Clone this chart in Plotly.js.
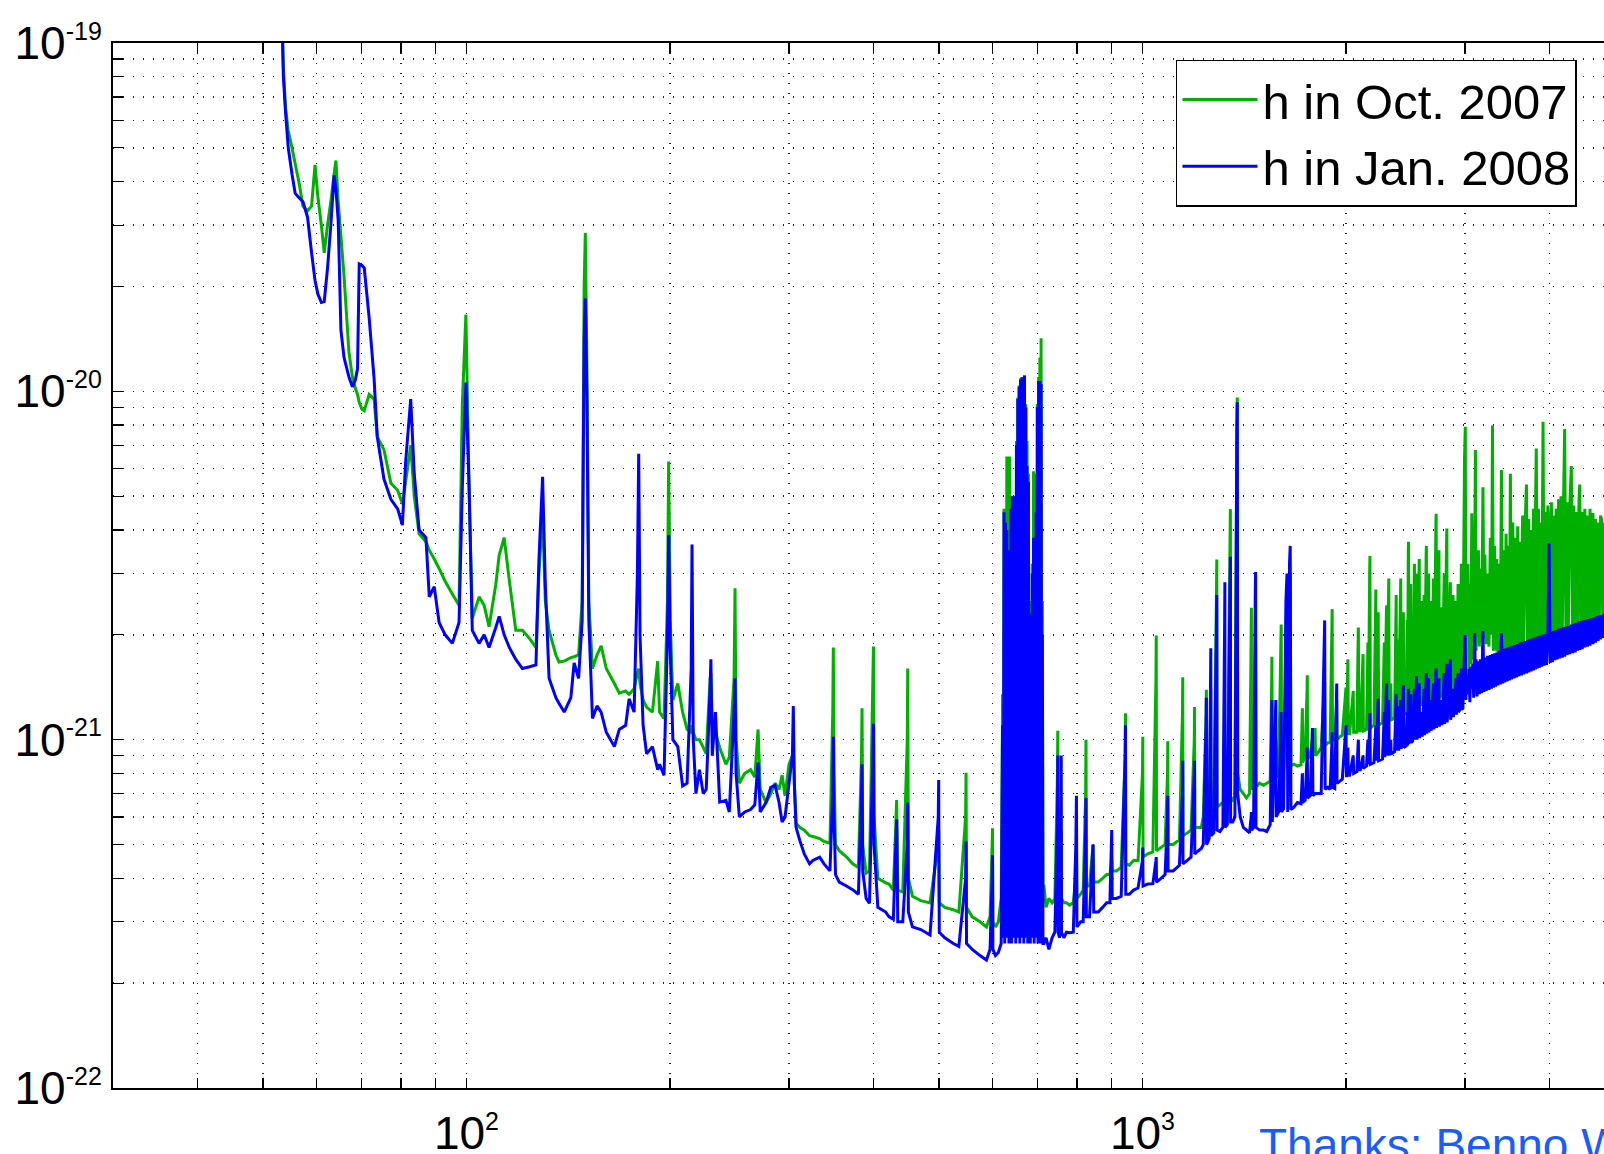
<!DOCTYPE html>
<html>
<head>
<meta charset="utf-8">
<script src="https://cdn.plot.ly/plotly-3.0.1.min.js"></script>
<style>
  html, body { margin: 0; padding: 0; overflow: hidden; background: #fff; width: 1604px; height: 1154px; }
  #chart { width: 1640px; height: 1154px; }
</style>
</head>
<body>
<div id="chart"></div>
<script>
// Strain amplitude values are listed in units of 1e-21 (1/sqrt(Hz)); frequencies in Hz.
const STRAIN_UNIT = 1e-21;

// ---- 53 - 160 Hz ----
const freqSeg1 = [53.2, 53.6, 54.0, 54.5, 55.2, 55.8, 56.5, 57.3, 58.2, 59.0,
  59.7, 60.3, 61.0, 61.6, 62.3, 63.0, 63.7, 64.1, 64.6, 65.2,
  65.9, 67.0, 67.8, 68.5, 69.0, 69.4, 70.0, 70.6, 71.8, 73.0,
  73.8, 75.5, 77.3, 79.1, 80.4, 81.3, 82.7, 83.7, 85.1, 87.1,
  88.1, 89.6, 91.1, 93.0, 95.3, 97.5, 98.6, 99.8, 100.9, 102,
  104.4, 106.2, 108, 110.5, 111.8, 113.7, 115.7, 118.3, 121, 124,
  126.7, 128, 129.6, 130.8, 132.5, 135.6, 137.1, 139.5, 142.7, 144.3,
  146.5, 148.3, 149.3, 149.9, 150.7, 151.7, 153.6, 156, 158.2];
const octSeg1 = [150, 85, 65, 56, 50, 45, 40, 34, 33, 34,
  44.7, 36, 30, 25, 30, 35, 42, 46, 35, 28,
  21.4, 13, 11, 10.2, 9.8, 9.3, 8.9, 8.8, 9.8, 9.5,
  7.4, 6.8, 5.45, 5.2, 4.75, 5.5, 7.0, 5.0, 3.9, 3.7,
  3.5, 3.3, 3.1, 2.85, 2.62, 2.43, 9.2, 16.6, 5.3, 2.23,
  2.57, 2.43, 2.11, 2.79, 3.39, 3.8, 2.87, 2.06, 2.06, 1.95,
  1.84, 3.0, 4.4, 2.5, 2.06, 1.75, 1.67, 1.68, 1.72, 1.73,
  1.75, 2.5, 20, 28.5, 12, 2.5, 1.6, 1.75, 1.86];
const janSeg1 = [150, 80, 63, 50, 42, 37, 36, 35, 31.6, 25,
  20.8, 19, 18, 18.1, 22.6, 30, 41.7, 38, 31, 15,
  12.5, 11, 10.3, 10.8, 11.6, 23.2, 23.0, 22.6, 16.2, 10.9,
  7.4, 5.6, 4.9, 4.6, 4.13, 6.3, 9.5, 5.8, 4.0, 3.8,
  2.57, 2.75, 2.17, 2.0, 1.89, 2.17, 5.3, 10.6, 5.3, 2.06,
  1.89, 2.0, 1.84, 2.1, 2.26, 2.0, 1.84, 1.7, 1.6, 1.62,
  1.64, 3.3, 5.68, 2.8, 1.5, 1.32, 1.27, 1.2, 1.32, 1.66,
  1.5, 2.2, 14, 18.5, 9.8, 2.2, 1.15, 1.25, 1.2];

// ---- 160 - 612 Hz ----
const freqSeg2 = [161, 165.5, 168.3, 172, 174, 177, 179, 179.8, 180.6, 182.5,
  184.7, 188.4, 191.8, 193, 196, 198.3, 199.1, 200.2, 202, 205.4,
  208.8, 212, 215, 215.6, 216.5, 218.5, 221.1, 224, 226.3, 229.3,
  229.9, 231, 233.5, 236.9, 242, 244.8, 248.8, 249.6, 250.5, 253.3,
  258, 263.2, 267, 270, 272, 277.4, 282, 286, 290, 293,
  296, 300, 303.5, 304.4, 305.5, 307.3, 311.2, 316, 321.7, 325.4,
  333, 338, 344.9, 348.2, 348.9, 349.7, 351.5, 356, 364.8, 372.6,
  380, 384, 384.7, 385.6, 390.1, 394.6, 399.2, 400, 400.8, 406,
  417.1, 421.8, 428, 432.9, 434.5, 442, 448.8, 449.5, 450.5, 456.8,
  470, 485, 498.8, 499.5, 500.5, 510, 525, 535, 547.5, 548.3,
  549.2, 560, 575, 587.7, 595, 599.3, 600, 600.8, 606, 612];
const octSeg2 = [1.6, 1.45, 1.36, 1.38, 1.35, 1.4, 1.55, 1.6, 1.45, 1.3,
  1.24, 1.2, 1.68, 1.2, 1.15, 2.5, 6.29, 2.2, 1.3, 1.45,
  1.2, 1.07, 1.05, 1.1, 1.05, 1.0, 1.0, 0.95, 0.91, 1.5,
  1.55, 1.1, 1.05, 0.95, 0.85, 0.89, 1.5, 2.72, 1.0, 0.75,
  0.8, 0.82, 0.78, 1.07, 0.72, 0.66, 0.7, 0.75, 0.72, 0.79,
  0.69, 0.85, 0.9, 0.92, 0.75, 0.575, 0.56, 0.55, 0.53, 0.527,
  0.52, 0.51, 0.505, 1.2, 1.84, 0.8, 0.5, 0.48, 0.461, 0.44,
  0.43, 0.9, 1.23, 0.5, 0.414, 0.42, 1.5, 1.85, 0.6, 0.40,
  0.388, 0.385, 0.37, 0.671, 0.37, 0.365, 1.0, 1.6, 0.4, 0.355,
  0.345, 0.34, 0.5, 0.55, 0.34, 0.33, 0.325, 0.32, 0.6, 0.804,
  0.33, 0.31, 0.30, 0.29, 0.31, 0.5, 0.557, 0.3, 0.29, 0.3];
const janSeg2 = [1.05, 0.955, 1.07, 1.1, 1.31, 1.2, 3.0, 6.62, 2.0, 1.1,
  0.91, 0.955, 0.82, 0.85, 0.79, 2.0, 3.87, 1.8, 1.0, 0.955,
  0.736, 0.75, 1.6, 3.63, 1.0, 0.7, 0.82, 0.7, 0.72, 1.4,
  1.7, 0.9, 1.2, 0.662, 0.67, 0.62, 1.2, 1.5, 0.8, 0.6,
  0.62, 0.63, 0.65, 0.86, 0.62, 0.66, 0.73, 0.74, 0.66, 0.58,
  0.6, 0.75, 0.9, 1.25, 0.75, 0.56, 0.514, 0.47, 0.44, 0.45,
  0.46, 0.44, 0.42, 0.7, 1.02, 0.6, 0.41, 0.39, 0.38, 0.371,
  0.36, 0.7, 0.85, 0.42, 0.35, 0.339, 0.9, 1.11, 0.5, 0.33,
  0.32, 0.31, 0.305, 0.59, 0.3, 0.3, 0.5, 0.66, 0.32, 0.29,
  0.285, 0.275, 0.6, 0.766, 0.28, 0.27, 0.26, 0.255, 0.4, 0.51,
  0.26, 0.25, 0.24, 0.233, 0.25, 0.4, 0.466, 0.25, 0.24, 0.245];

// ---- violin-mode region, 618 - 713 Hz ----
const freqSeg3 = [618, 621, 622.5, 624, 625.5, 627, 628.5, 630, 631.5, 633,
  634.5, 636, 637.5, 639, 640.5, 642, 643.5, 645, 646.5, 648,
  649.5, 651, 652.5, 654, 655.5, 657, 658.5, 660, 661.5, 663,
  664.5, 666, 667.5, 669, 670.5, 672, 673.5, 675, 676.5, 678,
  679.5, 681, 682.5, 684, 685.5, 687, 688.5, 690, 691.5, 693,
  694.5, 696, 697.5, 699, 700.5, 702, 703.5, 705, 706.5, 708,
  709.5, 711, 712.5];
const octSeg3 = [0.35, 1.35, 0.36, 4.6, 0.37, 4.4, 0.35, 6.5, 0.38, 5.5,
  0.36, 6.5, 0.37, 4.8, 0.35, 5.0, 0.38, 4.9, 0.36, 5.0,
  0.37, 7.2, 0.35, 9.6, 0.38, 10.4, 0.36, 10.9, 0.37, 11.0,
  0.35, 11.0, 0.38, 11.1, 0.36, 9.2, 0.37, 7.2, 0.35, 5.8,
  0.38, 2.5, 0.36, 2.4, 0.37, 3.2, 0.35, 5.9, 0.38, 5.8,
  0.36, 4.6, 0.37, 9.2, 0.35, 11.0, 0.38, 12.5, 0.36, 14.2,
  0.37, 2.5, 0.38];
const janSeg3 = [0.26, 1.1, 0.27, 4.5, 0.26, 4.2, 0.27, 4.0, 0.28, 3.5,
  0.26, 3.2, 0.27, 4.6, 0.26, 5.0, 0.28, 4.8, 0.27, 5.0,
  0.26, 7.0, 0.28, 9.5, 0.27, 10.3, 0.26, 10.8, 0.27, 10.9,
  0.28, 11.0, 0.26, 11.1, 0.27, 9.0, 0.28, 6.1, 0.26, 5.5,
  0.27, 2.3, 0.26, 2.1, 0.28, 3.0, 0.27, 3.8, 0.26, 3.6,
  0.27, 4.5, 0.28, 9.0, 0.26, 10.7, 0.27, 10.7, 0.26, 10.5,
  0.27, 2.0, 0.26];

// ---- 715 - 1395 Hz ----
const freqSeg4 = [715, 720, 727, 735, 742, 748.6, 749.4, 750.2, 754, 757.5,
  758.2, 759, 765, 772, 780, 790, 797, 798.5, 800, 810,
  817, 824, 825, 826, 835, 845, 847, 860, 873, 885,
  895, 900.5, 902, 915, 930, 942.8, 943.7, 944.6, 956, 970,
  985, 1000, 1001, 1002, 1018, 1036, 1047, 1048, 1049, 1065,
  1080, 1089, 1090, 1091, 1110, 1125, 1134, 1146, 1147, 1148,
  1165, 1180, 1193, 1194, 1195, 1210, 1222, 1230, 1242, 1243,
  1244, 1255, 1261, 1262, 1263, 1275, 1287, 1288, 1289, 1302,
  1315, 1323, 1324, 1325, 1335, 1348, 1349, 1350, 1360, 1370,
  1379, 1381, 1383, 1395];
const octSeg4 = [0.38, 0.33, 0.35, 0.34, 0.35, 0.8, 1.06, 0.36, 0.34, 0.5,
  0.55, 0.35, 0.34, 0.34, 0.335, 0.34, 0.4, 0.5, 0.35, 0.36,
  0.37, 0.7, 1.0, 0.38, 0.38, 0.5, 0.39, 0.39, 0.40, 0.41,
  0.41, 0.45, 0.42, 0.42, 0.43, 0.9, 1.19, 0.44, 0.436, 0.45,
  0.45, 0.8, 1.02, 0.46, 0.47, 0.476, 1.5, 1.99, 0.48, 0.49,
  0.50, 0.8, 0.99, 0.50, 0.50, 0.51, 0.515, 1.2, 1.51, 0.53,
  0.54, 0.55, 1.0, 1.24, 0.56, 0.56, 0.56, 0.60, 1.2, 1.39,
  0.60, 0.62, 1.2, 1.4, 0.62, 0.63, 2.8, 3.29, 0.64, 0.65,
  0.66, 0.66, 0.65, 0.66, 0.66, 4.0, 4.59, 0.68, 0.67, 0.69,
  8.0, 9.6, 0.8, 0.72];
const janSeg4 = [0.26, 0.27, 0.25, 0.27, 0.28, 0.6, 0.9, 0.28, 0.27, 0.6,
  0.9, 0.28, 0.27, 0.28, 0.279, 0.28, 0.5, 0.69, 0.29, 0.30,
  0.30, 0.55, 0.68, 0.31, 0.31, 0.5, 0.32, 0.32, 0.33, 0.34,
  0.34, 0.55, 0.35, 0.35, 0.355, 0.9, 1.1, 0.36, 0.36, 0.37,
  0.375, 0.45, 0.49, 0.38, 0.385, 0.386, 0.45, 0.46, 0.39, 0.40,
  0.41, 0.6, 0.69, 0.42, 0.42, 0.43, 0.436, 0.7, 0.87, 0.44,
  0.45, 0.46, 0.8, 0.87, 0.47, 0.48, 0.487, 0.50, 1.1, 1.32,
  0.50, 0.52, 1.5, 1.83, 0.53, 0.54, 2.2, 2.6, 0.55, 0.545,
  0.56, 2.2, 2.83, 0.56, 0.57, 3.0, 3.35, 0.58, 0.58, 0.60,
  7.5, 9.3, 0.7, 0.60];

// ---- 1410 - 3008 Hz ----
const freqSeg5 = [1410, 1425, 1440, 1448, 1449, 1450, 1460, 1468, 1470, 1472,
  1490, 1510, 1527, 1545, 1553, 1554, 1556, 1575, 1577, 1590,
  1603, 1604, 1606, 1617, 1630, 1636, 1640, 1650, 1654, 1658,
  1675, 1695, 1716, 1724, 1726, 1740, 1752, 1753, 1755, 1770,
  1784, 1787, 1800, 1803, 1820, 1838, 1858, 1860, 1863, 1880,
  1895, 1907, 1908, 1910, 1925, 1938, 1940, 1960, 1975, 2000,
  2003, 2013, 2016, 2025, 2050, 2053, 2075, 2086, 2089, 2100,
  2120, 2122, 2145, 2155, 2158, 2168, 2170, 2173, 2200, 2214,
  2217, 2230, 2232, 2235, 2265, 2279, 2282, 2295, 2297, 2300,
  2314, 2317, 2330, 2333, 2360, 2373, 2376, 2388, 2390, 2393,
  2410, 2413, 2430, 2432, 2435, 2455, 2463, 2466, 2473, 2475,
  2478, 2493, 2496, 2510, 2525, 2528, 2542, 2544, 2547, 2567,
  2570, 2590, 2593, 2610, 2613, 2628, 2630, 2633, 2650, 2653,
  2670, 2673, 2695, 2698, 2717, 2719, 2722, 2745, 2748, 2770,
  2773, 2795, 2798, 2818, 2820, 2823, 2852, 2854, 2857, 2880,
  2883, 2910, 2913, 2930, 2933, 2950, 2963, 2966, 2978, 2995,
  3003, 3008];
const octSeg5 = [0.70, 0.68, 0.70, 2.0, 2.39, 0.72, 0.74, 1.5, 1.9, 0.73,
  0.75, 0.74, 0.75, 0.76, 1.5, 1.73, 0.78, 1.0, 0.78, 0.80,
  2.0, 2.14, 0.80, 0.82, 1.5, 1.6, 0.83, 2.5, 3.0, 0.84,
  0.85, 0.84, 0.846, 1.23, 0.86, 0.90, 1.4, 1.53, 0.88, 0.90,
  1.0, 0.90, 1.08, 0.90, 0.92, 0.95, 1.45, 1.45, 0.96, 0.98,
  0.98, 2.2, 2.37, 1.0, 1.0, 1.3, 1.0, 1.02, 1.03, 1.41,
  1.03, 1.7, 1.04, 1.04, 1.38, 1.05, 1.05, 2.1, 1.06, 1.06,
  1.76, 1.06, 1.07, 1.9, 1.07, 3.0, 3.37, 1.08, 1.10, 2.7,
  1.10, 2.2, 2.32, 1.10, 1.12, 1.9, 1.12, 2.3, 2.43, 1.13,
  2.9, 1.13, 1.45, 1.14, 1.15, 2.6, 1.15, 1.8, 1.94, 1.16,
  2.9, 1.17, 2.2, 2.32, 1.18, 1.20, 2.2, 1.20, 3.5, 3.7,
  1.20, 2.8, 1.21, 1.22, 3.2, 1.23, 2.8, 3.0, 1.24, 3.3,
  1.25, 2.5, 1.25, 2.6, 1.26, 3.4, 3.6, 1.27, 3.0, 1.27,
  2.5, 1.28, 2.9, 1.29, 4.2, 4.45, 1.30, 3.5, 1.31, 2.4,
  1.32, 3.0, 1.33, 3.8, 4.04, 1.34, 2.7, 2.83, 1.36, 2.6,
  1.38, 2.5, 1.41, 2.8, 1.45, 1.50, 3.2, 1.55, 1.60, 6.5,
  7.91, 2.0];
const janSeg5 = [0.56, 0.55, 0.54, 0.60, 0.62, 0.55, 0.56, 2.5, 3.03, 0.56,
  0.55, 0.55, 0.545, 0.57, 1.1, 1.3, 0.58, 1.3, 0.60, 0.62,
  1.1, 1.2, 0.62, 0.633, 2.5, 3.0, 0.62, 3.2, 3.6, 0.63,
  0.64, 0.66, 0.655, 0.80, 0.66, 0.67, 0.90, 0.95, 0.68, 0.69,
  1.08, 0.69, 0.70, 0.70, 0.70, 0.70, 2.0, 2.2, 0.72, 0.73,
  0.72, 1.0, 1.05, 0.73, 0.724, 1.45, 0.75, 0.76, 0.77, 1.1,
  0.78, 0.95, 0.79, 0.79, 0.90, 0.80, 0.81, 1.0, 0.82, 0.82,
  0.90, 0.827, 0.84, 1.0, 0.85, 1.1, 1.19, 0.85, 0.86, 1.1,
  0.87, 1.25, 1.31, 0.87, 0.88, 1.2, 0.89, 1.4, 1.45, 0.90,
  1.3, 0.90, 1.0, 0.91, 0.924, 1.35, 0.93, 1.2, 1.25, 0.93,
  1.3, 0.94, 1.38, 1.43, 0.95, 0.96, 1.2, 0.96, 1.3, 1.4,
  0.97, 1.35, 0.98, 0.99, 1.4, 1.0, 1.45, 1.52, 1.0, 1.45,
  1.01, 1.2, 1.02, 1.4, 1.03, 1.5, 1.55, 1.04, 1.5, 1.05,
  1.3, 1.06, 1.45, 1.07, 1.55, 1.6, 1.08, 1.5, 1.09, 1.3,
  1.10, 1.55, 1.11, 1.6, 1.65, 1.12, 1.65, 1.7, 1.14, 1.4,
  1.16, 1.5, 1.18, 1.55, 1.2, 1.22, 1.6, 1.22, 1.23, 1.8,
  2.0, 1.30];

// ---- 3020 - 5000 Hz ----
const freqSeg6 = [3020, 3030, 3040, 3050, 3060, 3070, 3080, 3090, 3100, 3108,
  3115, 3125, 3140, 3150, 3160, 3175, 3189, 3200, 3210, 3225,
  3240, 3255, 3270, 3283, 3294, 3305, 3318, 3330, 3343, 3356,
  3370, 3383, 3396, 3410, 3423, 3436, 3450, 3463, 3477, 3490,
  3501, 3515, 3530, 3545, 3560, 3575, 3590, 3605, 3620, 3635,
  3650, 3665, 3680, 3698, 3712, 3727, 3742, 3757, 3772, 3787,
  3800, 3812, 3824, 3838, 3852, 3866, 3880, 3896, 3913, 3928,
  3944, 3960, 3978, 3994, 4010, 4026, 4042, 4058, 4075, 4092,
  4108, 4125, 4142, 4160, 4178, 4195, 4212, 4230, 4248, 4266,
  4285, 4309, 4327, 4346, 4365, 4384, 4403, 4422, 4434, 4453,
  4472, 4492, 4512, 4532, 4552, 4572, 4592, 4612, 4639, 4660,
  4680, 4700, 4720, 4740, 4760, 4774, 4795, 4815, 4836, 4857,
  4878, 4900, 4922, 4944, 4966, 4988, 5000];
const octSeg6 = [2.6, 3.2, 1.6, 2.8, 1.65, 4.47, 1.7, 2.6, 3.0, 6.78,
  1.8, 3.0, 3.5, 1.85, 3.1, 1.9, 5.3, 1.95, 3.4, 1.88,
  3.0, 1.85, 3.8, 2.0, 7.98, 1.8, 3.6, 1.8, 3.3, 1.78,
  3.2, 1.78, 5.94, 1.76, 3.5, 1.78, 3.9, 1.78, 3.6, 1.8,
  5.8, 1.8, 4.2, 1.82, 3.8, 1.82, 4.1, 1.83, 3.7, 1.84,
  4.4, 1.84, 4.0, 5.4, 1.86, 4.3, 1.87, 4.0, 1.88, 4.6,
  1.9, 4.2, 6.85, 1.9, 4.6, 1.91, 4.2, 1.92, 8.18, 1.92,
  4.5, 1.93, 4.7, 3.8, 1.95, 4.8, 1.96, 4.4, 1.98, 4.6,
  1.99, 4.9, 2.0, 5.0, 2.02, 4.6, 7.8, 2.05, 4.8, 2.06,
  4.6, 6.1, 2.07, 4.7, 2.09, 4.5, 2.1, 4.8, 5.4, 2.12,
  4.5, 2.13, 4.6, 2.15, 4.4, 2.16, 4.6, 2.18, 4.47, 2.2,
  4.3, 2.21, 4.2, 2.22, 4.4, 4.3, 2.24, 4.2, 2.26, 4.1,
  2.27, 4.0, 2.28, 3.9, 2.3, 3.8, 2.32];
const janSeg6 = [1.5, 1.35, 1.6, 1.28, 1.62, 1.4, 1.65, 1.32, 2.02, 1.45,
  1.7, 1.33, 1.68, 1.35, 1.7, 1.36, 2.05, 1.37, 1.72, 1.38,
  1.74, 1.39, 1.75, 1.4, 1.76, 1.41, 1.77, 1.42, 1.78, 1.43,
  1.8, 1.44, 2.02, 1.45, 1.82, 1.46, 1.83, 1.47, 1.84, 1.48,
  1.85, 1.49, 1.86, 1.5, 1.87, 1.51, 1.88, 1.52, 1.9, 1.53,
  1.91, 1.54, 1.92, 1.55, 1.93, 1.56, 1.94, 1.57, 1.95, 1.58,
  1.96, 1.59, 1.97, 1.6, 1.98, 1.61, 1.99, 1.62, 2.0, 1.63,
  2.01, 1.64, 2.02, 3.66, 1.66, 2.04, 1.67, 2.05, 1.69, 2.06,
  1.7, 2.08, 1.71, 2.09, 1.72, 2.1, 1.73, 2.11, 1.75, 2.12,
  1.76, 2.14, 1.77, 2.15, 1.78, 2.16, 1.8, 2.18, 1.81, 2.19,
  1.82, 2.2, 1.84, 2.21, 1.85, 2.22, 1.86, 2.23, 1.88, 2.24,
  1.9, 2.26, 1.92, 2.27, 1.94, 2.28, 1.96, 2.3, 1.98, 2.31,
  2.0, 2.33, 2.02, 2.34, 2.04, 2.36, 2.05];

const seriesNames = ['h in Oct. 2007', 'h in Jan. 2008'];
const seriesColors = ['#00b000', '#0000ff'];

const xTickVals = [30, 40, 50, 60, 70, 80, 90, 100, 200, 300, 400, 500, 600, 700, 800, 900, 1000, 2000, 3000, 4000, 5000];
const xTickText = ['', '', '', '', '', '', '', '10<sup><span style="font-size:25px">2</span></sup>', '', '', '', '', '', '', '', '', '10<sup><span style="font-size:25px">3</span></sup>', '', '', '', ''];
const yTickVals = [1e-22, 2e-22, 3e-22, 4e-22, 5e-22, 6e-22, 7e-22, 8e-22, 9e-22,
  1e-21, 2e-21, 3e-21, 4e-21, 5e-21, 6e-21, 7e-21, 8e-21, 9e-21,
  1e-20, 2e-20, 3e-20, 4e-20, 5e-20, 6e-20, 7e-20, 8e-20, 9e-20, 1e-19];
const yTickText = ['10<sup><span style="font-size:25px">-22</span></sup>', '', '', '', '', '', '', '', '',
  '10<sup><span style="font-size:25px">-21</span></sup>', '', '', '', '', '', '', '', '',
  '10<sup><span style="font-size:25px">-20</span></sup>', '', '', '', '', '', '', '', '',
  '10<sup><span style="font-size:25px">-19</span></sup>'];

const freqHz = [].concat(freqSeg1, freqSeg2, freqSeg3, freqSeg4, freqSeg5, freqSeg6);
const hOct = [].concat(octSeg1, octSeg2, octSeg3, octSeg4, octSeg5, octSeg6).map(v => v * STRAIN_UNIT);
const hJan = [].concat(janSeg1, janSeg2, janSeg3, janSeg4, janSeg5, janSeg6).map(v => v * STRAIN_UNIT);

const FONT = '"Liberation Sans", Arial, Helvetica, sans-serif';

const traces = [
  { x: freqHz, y: hOct, name: seriesNames[0], type: 'scatter', mode: 'lines',
    line: { color: seriesColors[0], width: 3, simplify: false } },
  { x: freqHz, y: hJan, name: seriesNames[1], type: 'scatter', mode: 'lines',
    line: { color: seriesColors[1], width: 3, simplify: false } }
];

const axisCommon = {
  type: 'log', tickmode: 'array', ticks: 'inside', ticklen: 10, tickwidth: 1.2, tickcolor: '#000',
  showline: true, linewidth: 2, linecolor: '#000', mirror: 'ticks',
  showgrid: true, gridcolor: '#222', gridwidth: 1.4, griddash: '1.4px,8.6px',
  zeroline: false, automargin: false,
  tickfont: { family: FONT, size: 46, color: '#000' }
};

const layout = {
  width: 1640, height: 1154,
  margin: { l: 113, r: 25, t: 43, b: 66 },
  paper_bgcolor: '#fff', plot_bgcolor: '#fff',
  showlegend: true,
  legend: {
    x: 0.7077, y: 0.984, xanchor: 'left', yanchor: 'top',
    bgcolor: '#fff', bordercolor: '#000', borderwidth: 1.5,
    font: { family: FONT, size: 49, color: '#000' },
    itemwidth: 75, tracegroupgap: 0
  },
  xaxis: Object.assign({}, axisCommon, {
    range: [Math.log10(30), Math.log10(5000)],
    tickvals: xTickVals, ticktext: xTickText,
    ticklabelstandoff: 4
  }),
  yaxis: Object.assign({}, axisCommon, {
    range: [-22, -19],
    tickvals: yTickVals, ticktext: yTickText
  }),
  annotations: [{
    xref: 'paper', yref: 'paper', x: 0.7617, y: -0.0545, xanchor: 'left', yanchor: 'middle',
    text: 'Thanks: Benno Willke', showarrow: false,
    font: { family: FONT, size: 46, color: '#1a5cff' }
  }]
};

Plotly.newPlot('chart', traces, layout, { staticPlot: true, displayModeBar: false });
</script>
</body>
</html>
